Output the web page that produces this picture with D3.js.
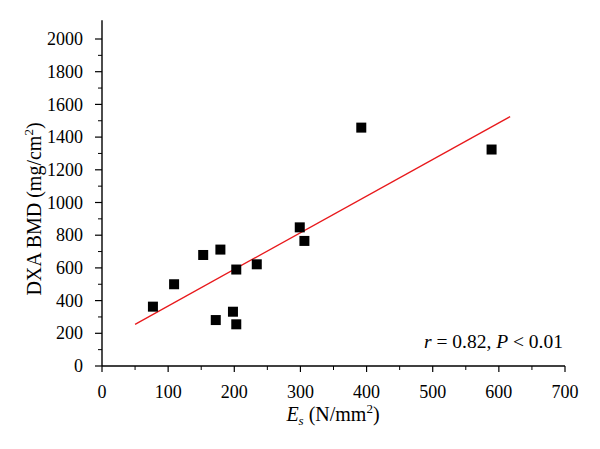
<!DOCTYPE html>
<html>
<head>
<meta charset="utf-8">
<script src="https://cdn.jsdelivr.net/npm/d3@7"></script>
<style>
  body { margin: 0; background: #fff; }
  svg { display: block; font-family: "Liberation Serif", "DejaVu Serif", serif; }
</style>
</head>
<body>
<svg width="600" height="449"></svg>
<script>
// E_s (N/mm2) and DXA BMD (mg/cm2)
const esValues = [77, 109, 153, 179, 172, 198, 203, 203, 234, 299, 306, 392, 589]
const bmdValues = [363, 500, 679, 712, 281, 332, 255, 590, 622, 848, 765, 1458, 1324]

// fitted line end points
const fitX = [50, 617]
const fitY = [255, 1525]

const xTicks = [0, 100, 200, 300, 400, 500, 600, 700]
const yTicks = [0, 200, 400, 600, 800, 1000, 1200, 1400, 1600, 1800, 2000]

const svg = d3.select("svg")

const x = d3.scaleLinear().domain([0, 700]).range([102, 565])
const y = d3.scaleLinear().domain([0, 2000]).range([366, 39])

const g = svg.append("g")

// y axis line (runs a bit above 2000)
g.append("line")
    .attr("x1", x(0)).attr("x2", x(0))
    .attr("y1", y(0)).attr("y2", y(2115))
    .attr("stroke", "#000").attr("stroke-width", 1.4)

// x axis line
g.append("line")
    .attr("x1", x(0)).attr("x2", x(700))
    .attr("y1", y(0)).attr("y2", y(0))
    .attr("stroke", "#000").attr("stroke-width", 1.4)

// minor ticks
g.selectAll(".yminor")
    .data(d3.range(100, 2100, 200))
    .enter().append("line")
    .attr("x1", x(0) - 4).attr("x2", x(0))
    .attr("y1", d => y(d)).attr("y2", d => y(d))
    .attr("stroke", "#000").attr("stroke-width", 1)

g.selectAll(".xminor")
    .data(d3.range(50, 700, 100))
    .enter().append("line")
    .attr("x1", d => x(d)).attr("x2", d => x(d))
    .attr("y1", y(0)).attr("y2", y(0) + 4)
    .attr("stroke", "#000").attr("stroke-width", 1)

// major ticks + labels
g.selectAll(".ymajor")
    .data(yTicks)
    .enter().append("line")
    .attr("x1", x(0) - 7).attr("x2", x(0))
    .attr("y1", d => y(d)).attr("y2", d => y(d))
    .attr("stroke", "#000").attr("stroke-width", 1.2)

g.selectAll(".ylabel")
    .data(yTicks)
    .enter().append("text")
    .attr("x", x(0) - 19)
    .attr("y", d => y(d))
    .attr("dy", "0.34em")
    .attr("text-anchor", "end")
    .style("font-size", "18px")
    .text(d => d)

g.selectAll(".xmajor")
    .data(xTicks)
    .enter().append("line")
    .attr("x1", d => x(d)).attr("x2", d => x(d))
    .attr("y1", y(0)).attr("y2", y(0) + 6)
    .attr("stroke", "#000").attr("stroke-width", 1.2)

g.selectAll(".xlabel")
    .data(xTicks)
    .enter().append("text")
    .attr("x", d => x(d))
    .attr("y", 398)
    .attr("text-anchor", "middle")
    .style("font-size", "18px")
    .text(d => d)

// regression line
svg.append("line")
    .attr("x1", x(fitX[0])).attr("y1", y(fitY[0]))
    .attr("x2", x(fitX[1])).attr("y2", y(fitY[1]))
    .attr("stroke", "#e8191c").attr("stroke-width", 1.3)

// points
const size = 10
svg.selectAll(".pt")
    .data(esValues.map((v, i) => [v, bmdValues[i]]))
    .enter().append("rect")
    .attr("x", d => x(d[0]) - size / 2)
    .attr("y", d => y(d[1]) - size / 2)
    .attr("width", size).attr("height", size)
    .attr("fill", "#000")

// axis titles
const yTitle = svg.append("text")
    .attr("transform", "translate(41,209) rotate(-90)")
    .attr("text-anchor", "middle")
    .style("font-size", "20px")
yTitle.append("tspan").text("DXA BMD (mg/cm")
yTitle.append("tspan").attr("dy", -8).style("font-size", "13px").text("2")
yTitle.append("tspan").attr("dy", 8).text(")")

const xTitle = svg.append("text")
    .attr("x", 333).attr("y", 421)
    .attr("text-anchor", "middle")
    .style("font-size", "20px")
xTitle.append("tspan").style("font-style", "italic").text("E")
xTitle.append("tspan").attr("dy", 4).style("font-style", "italic").style("font-size", "13px").text("s")
xTitle.append("tspan").attr("dy", -4).text(" (N/mm")
xTitle.append("tspan").attr("dy", -8).style("font-size", "13px").text("2")
xTitle.append("tspan").attr("dy", 8).text(")")

// annotation
const note = svg.append("text")
    .attr("x", 563).attr("y", 348)
    .attr("text-anchor", "end")
    .style("font-size", "19.5px")
note.append("tspan").style("font-style", "italic").text("r")
note.append("tspan").text(" = 0.82, ")
note.append("tspan").style("font-style", "italic").text("P")
note.append("tspan").text(" < 0.01")
</script>
</body>
</html>
